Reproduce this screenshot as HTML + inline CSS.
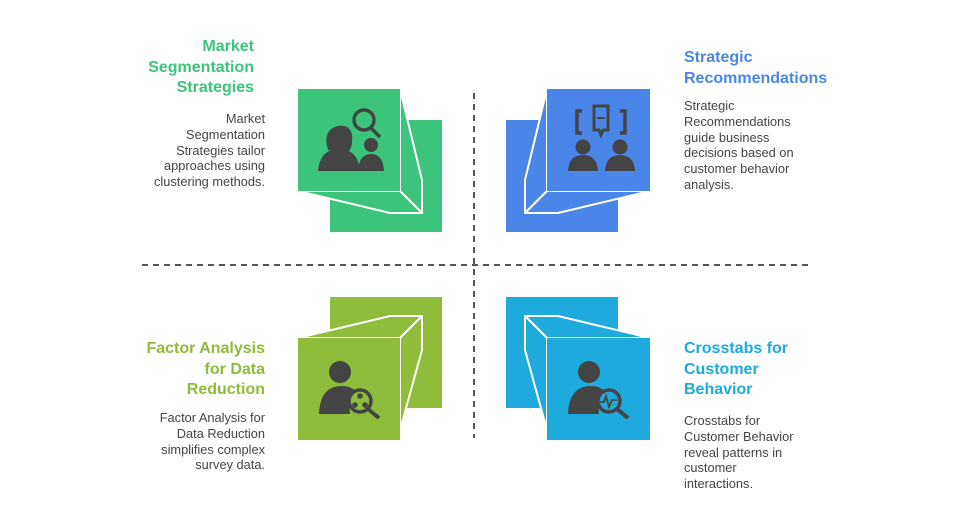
<!DOCTYPE html>
<html><head><meta charset="utf-8"><style>
body{margin:0;width:980px;height:517px;background:#fff;position:relative;overflow:hidden;font-family:"Liberation Sans",sans-serif}
.t{position:absolute;font-weight:bold;font-size:16px;line-height:20.5px}
.d{position:absolute;font-size:12.8px;line-height:15.8px;color:#444}
.r{text-align:right}
</style></head><body>
<svg width="980" height="517" style="position:absolute;left:0;top:0">
<g stroke="#555" stroke-width="2" stroke-dasharray="6,5">
<line x1="474" y1="93" x2="474" y2="438"/>
<line x1="142" y1="265" x2="808" y2="265"/>
</g>
<g stroke="#fff" stroke-width="2" stroke-linejoin="round">
<rect x="330" y="120" width="112" height="112" fill="#3cc47c" stroke="none"/>
<polygon points="400,89 422,180 422,213 400,191" fill="#3cc47c"/>
<polygon points="298,191 400,191 422,213 390,213" fill="#3cc47c"/>
<rect x="298" y="89" width="102" height="102" fill="#3cc47c" stroke="none"/>
<rect x="506" y="120" width="112" height="112" fill="#4a86e8" stroke="none"/>
<polygon points="547,89 525,180 525,213 547,191" fill="#4a86e8"/>
<polygon points="650,191 547,191 525,213 558,213" fill="#4a86e8"/>
<rect x="547" y="89" width="103" height="102" fill="#4a86e8" stroke="none"/>
<rect x="330" y="297" width="112" height="111" fill="#8fbc3a" stroke="none"/>
<polygon points="298,338 400,338 422,316 390,316" fill="#8fbc3a"/>
<polygon points="400,338 422,316 422,350 400,430" fill="#8fbc3a"/>
<rect x="298" y="338" width="102" height="102" fill="#8fbc3a" stroke="none"/>
<rect x="506" y="297" width="112" height="111" fill="#1eaadd" stroke="none"/>
<polygon points="650,338 547,338 525,316 558,316" fill="#1eaadd"/>
<polygon points="547,338 525,316 525,350 547,430" fill="#1eaadd"/>
<rect x="547" y="338" width="103" height="102" fill="#1eaadd" stroke="none"/>
</g>
<g fill="#444">
<!-- TL icon -->
<path d="M328,150 q-6,-20 10,-24 q16,-2 14,16 q0,6 -4,10 z"/>
<path d="M318,171 q2,-22 21,-22 q19,0 21,22 z"/>
<circle cx="364" cy="120" r="10" fill="none" stroke="#444" stroke-width="3.5"/>
<line x1="371" y1="128" x2="380" y2="137" stroke="#444" stroke-width="3.5"/>
<circle cx="371" cy="145" r="7"/>
<path d="M358,171 q1,-17 13,-17 q12,0 13,17 z"/>
<!-- TR icon -->
<path d="M582,111 h-5 v22 h5 M620,111 h5 v22 h-5" fill="none" stroke="#444" stroke-width="3.5"/>
<path d="M594,106 h14 v24 h-5 l-2,5 l-2,-5 h-5 z" fill="none" stroke="#444" stroke-width="3"/>
<line x1="597" y1="118" x2="605" y2="118" stroke="#444" stroke-width="2"/>
<circle cx="583" cy="147" r="7.5"/><path d="M568,171 q1,-16 15,-16 q14,0 15,16z"/>
<circle cx="620" cy="147" r="7.5"/><path d="M605,171 q1,-16 15,-16 q14,0 15,16z"/>
<!-- BL icon -->
<circle cx="340" cy="372" r="11"/>
<path d="M319,414 q1,-28 23,-28 q8,0 12,4 q-6,8 -4,24z"/>
<circle cx="360" cy="401" r="11" fill="none" stroke="#444" stroke-width="3.5"/>
<line x1="368" y1="409" x2="379" y2="418" stroke="#444" stroke-width="4"/>
<circle cx="360" cy="396" r="2.8"/><circle cx="355" cy="405" r="2.8"/><circle cx="365" cy="405" r="2.8"/>
<!-- BR icon -->
<circle cx="589" cy="372" r="11"/>
<path d="M568,414 q1,-28 23,-28 q8,0 12,4 q-6,8 -4,24z"/>
<circle cx="609" cy="401" r="11" fill="none" stroke="#444" stroke-width="3.5"/>
<line x1="617" y1="409" x2="628" y2="418" stroke="#444" stroke-width="4"/>
<polyline points="600,402 604,402 606,396 609,407 612,400 617,400" fill="none" stroke="#444" stroke-width="1.8"/>
</g>
</svg>
<div class="t r" style="right:726px;top:37px;color:#3cc47c">Market<br>Segmentation<br>Strategies</div>
<div class="d r" style="right:715px;top:111px">Market<br>Segmentation<br>Strategies tailor<br>approaches using<br>clustering methods.</div>
<div class="t" style="left:684px;top:48px;color:#4a86e8">Strategic<br>Recommendations</div>
<div class="d" style="left:684px;top:98px">Strategic<br>Recommendations<br>guide business<br>decisions based on<br>customer behavior<br>analysis.</div>
<div class="t r" style="right:715px;top:339px;color:#8fbc3a">Factor Analysis<br>for Data<br>Reduction</div>
<div class="d r" style="right:715px;top:410px">Factor Analysis for<br>Data Reduction<br>simplifies complex<br>survey data.</div>
<div class="t" style="left:684px;top:339px;color:#1eaadd">Crosstabs for<br>Customer<br>Behavior</div>
<div class="d" style="left:684px;top:413px">Crosstabs for<br>Customer Behavior<br>reveal patterns in<br>customer<br>interactions.</div>
</body></html>
